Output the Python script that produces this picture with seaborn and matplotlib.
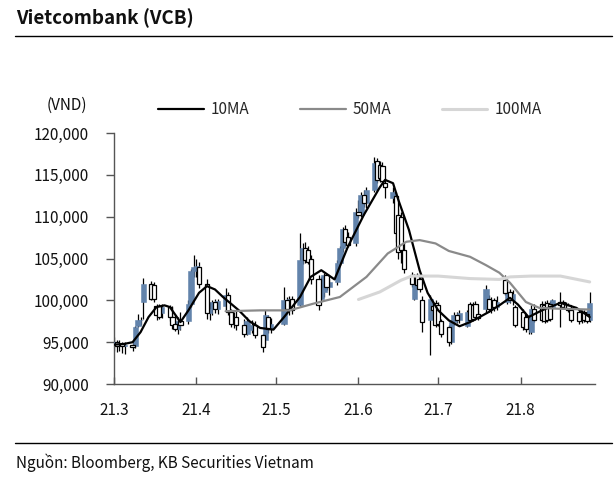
import pandas as pd
import numpy as np
import matplotlib
matplotlib.use("Agg")
import matplotlib.pyplot as plt
import seaborn as sns
from matplotlib.lines import Line2D
from matplotlib.ticker import FuncFormatter

sns.set_theme(style="white")
plt.rcParams["font.family"] = ["Noto Sans CJK KR", "DejaVu Sans"]

# Ngày giao dịch (bỏ các ngày nghỉ lễ)
holidays = ["2021-04-21", "2021-04-30", "2021-05-03"]
dates = pd.bdate_range("2021-03-01", "2021-08-27").drop(pd.to_datetime(holidays))

# Giá (nghìn VND)
opens = [94.8, 95.0, 94.6, 94.8, 94.5,  94.7, 94.5, 96.9, 97.6, 99.8,
         102.0, 101.8, 99.3, 99.3, 98.5,  99.2, 98.0, 97.2, 96.6, 97.5,
         97.5, 99.6, 103.5, 104.0, 104.0,  102.0, 98.5, 99.0, 99.8, 99.0,
         99.3, 100.6, 98.6, 97.2, 98.0,  97.0, 96.0, 96.5, 97.0,
         95.8, 95.2, 98.0, 96.6,  97.2, 100.0, 99.0, 100.2,
         99.5, 104.8, 106.3, 106.0, 105.0,  102.5, 100.2, 101.0, 103.0, 101.6,
         102.2, 104.5, 106.2, 108.5, 107.6,  106.8, 110.6, 110.2, 112.6, 111.6,
         113.2, 116.6, 116.2, 116.0, 114.0,  112.2, 112.5, 110.2, 110.0, 106.0,
         103.0, 100.2, 103.0, 102.5, 100.0,  97.6, 99.3, 99.7, 99.5, 97.5,
         96.8, 95.0, 97.4, 98.2, 97.6,  96.9, 99.6, 99.5, 99.6, 98.4,
         99.0, 100.2, 99.0, 100.0, 99.2,  102.4, 99.8, 101.0, 100.0, 99.2,
         98.6, 98.0, 96.6, 96.2, 99.0,  99.6, 99.5, 99.7, 99.6, 99.2,
         99.8, 99.8, 99.6, 99.4, 98.8,  98.6, 97.6, 98.6, 98.4, 97.7]
highs = [95.6, 95.3, 95.2, 95.0, 95.0,  95.1, 96.9, 98.4, 98.0, 102.7,
         102.3, 102.2, 99.6, 99.6, 99.6,  99.5, 99.3, 98.3, 98.0, 98.6,
         100.0, 103.8, 105.4, 105.0, 104.6,  102.5, 99.8, 100.0, 100.2, 100.2,
         101.5, 101.0, 99.0, 98.6, 98.8,  97.8, 98.0, 97.6, 97.5,
         96.0, 98.8, 98.2, 97.9,  101.6, 100.4, 100.5, 100.5,
         108.0, 106.8, 107.0, 106.5, 105.4,  103.0, 102.8, 103.3, 103.2, 102.6,
         104.8, 106.5, 108.8, 109.0, 108.2,  111.0, 112.0, 113.0, 113.2, 113.5,
         117.1, 117.0, 116.6, 116.5, 114.6,  113.6, 113.0, 111.0, 110.5, 107.0,
         103.4, 103.2, 103.3, 103.0, 100.5,  100.6, 99.6, 100.0, 99.8, 97.8,
         97.0, 97.6, 98.6, 98.6, 98.8,  98.8, 99.8, 99.8, 99.9, 98.8,
         101.8, 100.6, 100.4, 100.3, 100.5,  103.0, 101.2, 101.4, 101.2, 99.5,
         99.0, 98.4, 98.2, 99.4, 99.6,  99.9, 99.9, 100.0, 99.9, 100.2,
         101.0, 100.0, 99.8, 99.7, 99.0,  98.9, 98.8, 98.8, 98.7, 101.0]
lows = [94.0, 93.8, 93.9, 93.7, 93.6,  93.9, 94.3, 96.8, 97.0, 97.8,
        100.0, 99.8, 97.7, 97.8, 97.9,  97.5, 96.6, 96.3, 96.0, 96.5,
        97.2, 99.2, 102.8, 102.8, 101.5,  97.8, 97.6, 98.3, 98.5, 98.4,
        98.8, 98.3, 96.8, 96.7, 96.5,  95.6, 95.8, 96.1, 95.5,
        93.8, 94.8, 96.1, 96.1,  97.0, 98.5, 98.2, 98.4,
        99.3, 104.3, 104.5, 104.4, 102.0,  98.8, 100.0, 100.4, 101.2, 100.6,
        101.8, 104.2, 105.8, 106.5, 106.4,  106.5, 109.8, 110.0, 111.2, 111.0,
        113.0, 114.0, 114.2, 114.0, 112.2,  111.6, 107.0, 105.0, 104.5, 103.3,
        101.6, 100.0, 101.4, 101.0, 96.2,  93.5, 98.5, 96.8, 96.9, 95.6,
        94.6, 94.8, 97.0, 97.3, 97.3,  96.8, 97.4, 97.5, 97.6, 97.6,
        98.5, 98.6, 98.5, 98.7, 98.8,  100.6, 99.6, 99.7, 99.5, 96.8,
        96.4, 96.2, 96.0, 96.0, 97.4,  97.4, 97.3, 97.4, 97.5, 98.9,
        96.8, 99.0, 99.0, 98.6, 97.4,  97.2, 97.3, 97.4, 97.3, 97.4]
closes = [95.0, 94.6, 94.7, 94.5, 94.7,  94.4, 96.8, 97.6, 97.7, 102.0,
          100.2, 100.1, 98.2, 98.0, 99.2,  98.0, 97.0, 96.6, 97.5, 97.0,
          99.6, 103.5, 104.0, 104.1, 102.0,  98.5, 99.0, 99.8, 99.0, 99.9,
          100.6, 98.6, 97.2, 98.0, 97.0,  96.0, 97.5, 97.0, 95.8,
          94.4, 98.3, 96.6, 97.2,  100.0, 99.0, 100.2, 98.8,
          104.8, 106.2, 104.8, 104.6, 102.5,  99.5, 102.4, 103.0, 101.6, 102.2,
          104.5, 106.2, 108.5, 107.0, 106.6,  110.6, 110.2, 112.6, 111.6, 113.2,
          116.4, 114.4, 114.6, 114.3, 113.6,  113.0, 108.0, 105.8, 106.0, 103.8,
          102.0, 102.8, 101.8, 101.3, 97.4,  100.2, 98.8, 97.0, 97.2, 96.0,
          95.0, 97.4, 98.2, 97.6, 98.5,  98.6, 97.6, 97.8, 98.0, 97.9,
          101.4, 99.0, 100.0, 99.2, 99.8,  100.9, 101.0, 100.0, 100.8, 97.0,
          96.8, 96.6, 97.8, 99.0, 97.6,  97.6, 97.5, 97.7, 97.8, 100.0,
          99.4, 99.2, 99.1, 98.8, 97.6,  97.5, 98.4, 97.6, 97.5, 99.7]

# Đường trung bình động (nghìn VND)
ma10_dates = ["2021-03-01", "2021-03-05", "2021-03-08", "2021-03-11", "2021-03-14",
              "2021-03-17", "2021-03-20", "2021-03-22", "2021-03-26", "2021-03-29",
              "2021-04-02", "2021-04-05", "2021-04-08", "2021-04-11", "2021-04-17",
              "2021-04-21", "2021-04-25", "2021-04-30", "2021-05-04", "2021-05-10",
              "2021-05-14", "2021-05-18", "2021-05-23", "2021-05-28", "2021-06-03",
              "2021-06-09", "2021-06-11", "2021-06-14", "2021-06-16", "2021-06-20",
              "2021-06-24", "2021-06-27", "2021-07-01", "2021-07-05", "2021-07-09",
              "2021-07-13", "2021-07-16", "2021-07-20", "2021-07-24", "2021-07-28",
              "2021-07-31", "2021-08-04", "2021-08-09", "2021-08-16", "2021-08-22",
              "2021-08-27"]
ma10 = [94.7, 94.8, 95.0, 96.2, 98.0, 99.2, 99.4, 99.2, 97.4, 98.8,
        100.9, 101.7, 101.3, 100.4, 98.8, 97.5, 96.7, 96.5, 98.0, 100.4,
        102.8, 103.6, 102.5, 106.4, 110.2, 113.5, 114.4, 114.0, 112.0, 108.4,
        103.6, 100.9, 98.8, 97.6, 96.9, 97.4, 97.9, 98.6, 99.4, 100.3,
        99.5, 98.0, 98.8, 99.7, 99.1, 98.0]

ma50_dates = ["2021-04-12", "2021-04-25", "2021-05-06", "2021-05-15", "2021-05-25",
              "2021-06-04", "2021-06-12", "2021-06-19", "2021-06-24", "2021-06-30",
              "2021-07-05", "2021-07-13", "2021-07-19", "2021-07-24", "2021-07-28",
              "2021-08-03", "2021-08-08", "2021-08-15", "2021-08-27"]
ma50 = [98.7, 98.8, 98.8, 99.6, 100.4, 102.8, 105.6, 107.0, 107.2, 106.8,
        105.9, 105.2, 104.2, 103.3, 102.1, 99.8, 99.1, 99.0, 98.9]

ma100_dates = ["2021-06-01", "2021-06-09", "2021-06-17", "2021-06-21", "2021-07-01",
               "2021-07-13", "2021-07-24", "2021-07-28", "2021-08-05", "2021-08-16",
               "2021-08-27"]
ma100 = [100.1, 101.0, 102.4, 102.9, 102.9, 102.6, 102.5, 102.8, 102.9, 102.9, 102.2]

month_ticks = ["2021-03-01", "2021-04-01", "2021-05-01", "2021-06-01", "2021-07-01", "2021-08-01"]
month_labels = ["21.3", "21.4", "21.5", "21.6", "21.7", "21.8"]

BLUE = "#6283ab"
FS = 11

df = pd.DataFrame({"date": dates, "open": opens, "high": highs, "low": lows, "close": closes})
for col in ["open", "high", "low", "close"]:
    df[col] = df[col] * 1000
up = df["close"] >= df["open"]

fig, ax = plt.subplots(figsize=(6.16, 4.79), dpi=100)
fig.subplots_adjust(left=114 / 616, right=595 / 616, bottom=1 - 384 / 479, top=1 - 133 / 479)

# nến
ax.vlines(df["date"], df["low"], df["high"], color="black", lw=0.9, zorder=2)
ax.bar(df["date"][up], (df["close"] - df["open"])[up], bottom=df["open"][up],
       width=2.0, color=BLUE, edgecolor=BLUE, lw=0.4, zorder=3)
ax.bar(df["date"][~up], (df["open"] - df["close"])[~up], bottom=df["close"][~up],
       width=1.6, color="white", edgecolor="black", lw=0.9, zorder=3)

# MA
for d, v, c, w, lab in [(ma10_dates, ma10, "black", 1.6, "10MA"),
                        (ma50_dates, ma50, "#8a8a8a", 1.6, "50MA"),
                        (ma100_dates, ma100, "#d6d6d6", 2.2, "100MA")]:
    sns.lineplot(x=pd.to_datetime(d), y=np.array(v) * 1000, ax=ax, color=c, lw=w,
                 label=lab, zorder=4)

ax.set_xlim(pd.Timestamp("2021-03-01"), pd.Timestamp("2021-08-29"))
ax.set_ylim(90000, 120000)
ax.set_yticks(range(90000, 120001, 5000))
ax.yaxis.set_major_formatter(FuncFormatter(lambda v, p: f"{v:,.0f}"))
ax.set_xticks(pd.to_datetime(month_ticks))
ax.set_xticklabels(month_labels)
ax.set_xlabel("")
ax.set_ylabel("")

for s in ["top", "right"]:
    ax.spines[s].set_visible(False)
for s in ["left", "bottom"]:
    ax.spines[s].set_color("#555555")
    ax.spines[s].set_linewidth(1.0)
ax.tick_params(axis="y", left=True, direction="out", length=6, width=1,
               color="#555555", pad=12, labelsize=FS, labelcolor="#111111")
ax.tick_params(axis="x", bottom=True, direction="in", length=5, width=1,
               color="#555555", pad=13, labelsize=FS, labelcolor="#111111")

ax.legend(loc="center left", bbox_to_anchor=((158 - 114) / 481, 1 + 23 / 251), ncol=3,
          frameon=False, fontsize=FS, handlelength=3.0, handletextpad=0.45,
          columnspacing=3.3, borderpad=0, borderaxespad=0)

fig.text(47 / 616, 1 - 105 / 479, "(VND)", fontsize=FS, va="center", color="#111111")
fig.text(16 / 616, 1 - 18 / 479, "Vietcombank (VCB)", fontsize=13.5, fontweight="bold",
         va="center", color="#111111")
fig.add_artist(Line2D([15 / 616, 612 / 616], [1 - 36 / 479] * 2, color="black", lw=1))
fig.add_artist(Line2D([15 / 616, 612 / 616], [1 - 443 / 479] * 2, color="black", lw=1))
fig.text(16 / 616, 1 - 463 / 479, "Nguồn: Bloomberg, KB Securities Vietnam", fontsize=FS,
         va="center", color="#111111")

fig.savefig("out.png", dpi=100)
